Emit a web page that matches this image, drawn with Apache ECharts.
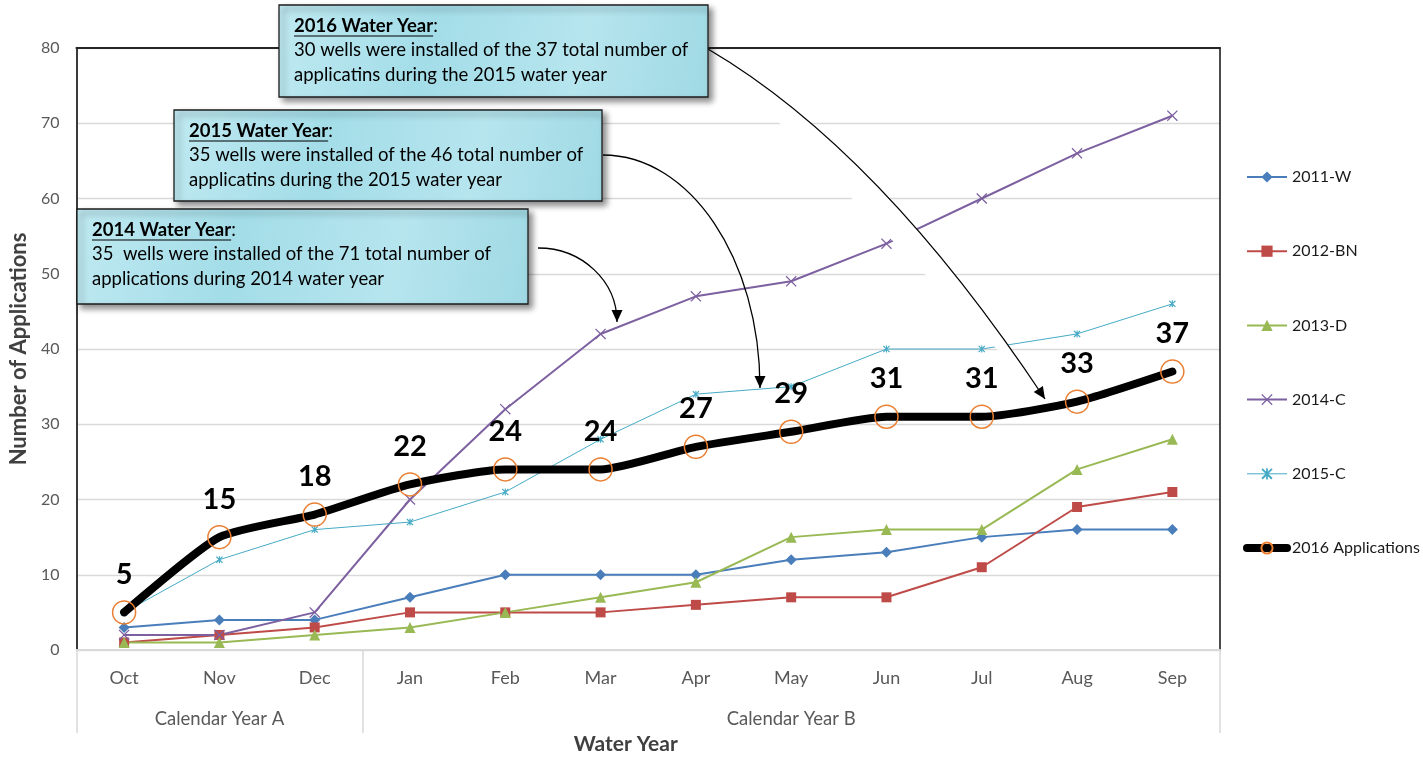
<!DOCTYPE html>
<html>
<head>
<meta charset="utf-8">
<title>Number of Applications by Water Year</title>
<script src="https://cdn.jsdelivr.net/npm/echarts@6/dist/echarts.min.js"></script>
<style>
  html, body { margin: 0; padding: 0; background: #fff; }
  #chart { width: 1423px; height: 761px; }
</style>
</head>
<body>
<div id="chart"></div>
<script>
  const months = ["Oct", "Nov", "Dec", "Jan", "Feb", "Mar", "Apr", "May", "Jun", "Jul", "Aug", "Sep"];
  const calendarYears = ["Calendar Year A", "Calendar Year B"];
  const calendarYearStart = [0, 3];

  const wy2011 = [3, 4, 4, 7, 10, 10, 10, 12, 13, 15, 16, 16];
  const wy2012 = [1, 2, 3, 5, 5, 5, 6, 7, 7, 11, 19, 21];
  const wy2013 = [1, 1, 2, 3, 5, 7, 9, 15, 16, 16, 24, 28];
  const wy2014 = [2, 2, 5, 20, 32, 42, 47, 49, 54, 60, 66, 71];
  const wy2015 = [5, 12, 16, 17, 21, 28, 34, 35, 40, 40, 42, 46];
  const apps2016 = [5, 15, 18, 22, 24, 24, 27, 29, 31, 31, 33, 37];

  const callouts = [
    { title: "2016 Water Year", lines: ["30 wells were installed of the 37 total number of", "applicatins during the 2015 water year"] },
    { title: "2015 Water Year", lines: ["35 wells were installed of the 46 total number of", "applicatins during the 2015 water year"] },
    { title: "2014 Water Year", lines: ["35  wells were installed of the 71 total number of", "applications during 2014 water year"] }
  ];

  const FONT = "Lato, 'Open Sans', sans-serif";
  const xSymbol = "path://M0,0.8L0.8,0L5,4.2L9.2,0L10,0.8L5.8,5L10,9.2L9.2,10L5,5.8L0.8,10L0,9.2L4.2,5Z";
  const starSymbol = "path://M0,1.2L1.2,0L5,3.8L8.8,0L10,1.2L6.2,5L10,8.8L8.8,10L5,6.2L1.2,10L0,8.8L3.8,5Z M4.2,0H5.8V10H4.2Z";

  const chart = echarts.init(document.getElementById("chart"), null, { renderer: "canvas" });

  const measureCtx = document.createElement("canvas").getContext("2d");
  function textWidth(text, font) {
    measureCtx.font = font;
    return measureCtx.measureText(text).width;
  }

  // label of the second-level axis sits in the middle month of each calendar year
  function calendarLabel(index) {
    for (let i = 0; i < calendarYearStart.length; i++) {
      const start = calendarYearStart[i];
      const end = i + 1 < calendarYearStart.length ? calendarYearStart[i + 1] - 1 : months.length - 1;
      if (index === Math.floor((start + end) / 2)) return calendarYears[i];
    }
    return "";
  }

  function lineSeries(name, data, color, symbol, symbolSize, width) {
    return {
      name,
      type: "line",
      data,
      symbol,
      symbolSize,
      color,
      lineStyle: { color, width },
      itemStyle: { color },
      emphasis: { disabled: true },
      z: 3
    };
  }

  const series = [
    lineSeries("2011-W", wy2011, "#4A7EBB", "diamond", 11, 2),
    lineSeries("2012-BN", wy2012, "#BE4B48", "rect", 10, 2),
    lineSeries("2013-D", wy2013, "#98B954", "triangle", 11, 2),
    lineSeries("2014-C", wy2014, "#7D60A0", xSymbol, 11, 2),
    lineSeries("2015-C", wy2015, "#46AAC5", starSymbol, 7, 1),
    {
      name: "2016 Applications",
      type: "line",
      data: apps2016,
      symbol: "circle",
      symbolSize: 23,
      smooth: 0.2,
      color: "#EA7F32",
      lineStyle: { color: "#000", width: 8, cap: "round", join: "round" },
      itemStyle: { color: "rgba(255,255,255,0)", borderColor: "#EA7F32", borderWidth: 1.5 },
      emphasis: { disabled: true },
      label: {
        show: true,
        position: "top",
        distance: 11,
        fontFamily: FONT,
        fontSize: 29,
        fontWeight: "bold",
        color: "#000"
      },
      z: 4
    }
  ];

  // ----- callout boxes and curved arrows (annotation, pixel space) -----
  const boxes = [
    { x: 279, y: 5, w: 429, h: 92 },
    { x: 174, y: 110, w: 428, h: 91 },
    { x: 77, y: 209, w: 451, h: 95 }
  ];

  function quadPoint(p0, c, p2, t) {
    const u = 1 - t;
    return [u * u * p0[0] + 2 * u * t * c[0] + t * t * p2[0], u * u * p0[1] + 2 * u * t * c[1] + t * t * p2[1]];
  }

  function arrowHead(tip, from, z) {
    const dx = tip[0] - from[0];
    const dy = tip[1] - from[1];
    const len = Math.hypot(dx, dy);
    const ux = dx / len, uy = dy / len;
    const bx = tip[0] - ux * 12, by = tip[1] - uy * 12;
    return {
      type: "polygon",
      z,
      silent: true,
      shape: { points: [tip, [bx - uy * 5.5, by + ux * 5.5], [bx + uy * 5.5, by - ux * 5.5]] },
      style: { fill: "#000" }
    };
  }

  const graphics = [];

  // 2016 connector: white filled between chord and arc, as in the source
  const a16 = { p0: [708, 49], c: [880, 150], p2: [1045, 399] };
  const fillPts = [];
  for (let i = 0; i <= 40; i++) fillPts.push(quadPoint(a16.p0, a16.c, a16.p2, i / 40));
  graphics.push({ type: "polygon", z: 10, silent: true, shape: { points: fillPts }, style: { fill: "#fff" } });
  graphics.push({
    type: "bezierCurve", z: 11, silent: true,
    shape: { x1: a16.p0[0], y1: a16.p0[1], cpx1: a16.c[0], cpy1: a16.c[1], x2: a16.p2[0], y2: a16.p2[1] },
    style: { stroke: "#000", lineWidth: 1.3, fill: null }
  });
  graphics.push(arrowHead(a16.p2, quadPoint(a16.p0, a16.c, a16.p2, 0.96), 11));

  // 2015 and 2014 connectors: quarter ellipse arcs
  [
    { p0: [603, 155], c1: [690, 155], c2: [760, 259], p3: [760, 388] },
    { p0: [538, 248], c1: [582, 248], c2: [617, 281], p3: [617, 322] }
  ].forEach((a) => {
    graphics.push({
      type: "bezierCurve", z: 11, silent: true,
      shape: { x1: a.p0[0], y1: a.p0[1], cpx1: a.c1[0], cpy1: a.c1[1], cpx2: a.c2[0], cpy2: a.c2[1], x2: a.p3[0], y2: a.p3[1] },
      style: { stroke: "#000", lineWidth: 1.3, fill: null }
    });
    graphics.push(arrowHead(a.p3, a.c2, 11));
  });

  const boxFill = {
    type: "linear", x: 0, y: 0, x2: 1, y2: 1,
    colorStops: [
      { offset: 0, color: "#bfe9f1" },
      { offset: 0.35, color: "#a3dde8" },
      { offset: 0.7, color: "#b6e5ee" },
      { offset: 1, color: "#9fd9e4" }
    ]
  };

  const titleFont = "bold 18.5px " + FONT;
  const bodyFont = "18.5px " + FONT;

  callouts.forEach((item, i) => {
    const b = boxes[i];
    const tx = b.x + 15;
    const ty = b.y + 21;
    const tw = textWidth(item.title, titleFont);
    graphics.push({
      type: "rect", z: 20, silent: true,
      shape: { x: b.x, y: b.y, width: b.w, height: b.h },
      style: {
        fill: boxFill, stroke: "#1c1c1c", lineWidth: 1.3,
        shadowBlur: 6, shadowOffsetX: 4, shadowOffsetY: 4, shadowColor: "rgba(0,0,0,0.45)"
      }
    });
    graphics.push({
      type: "text", z: 21, silent: true, x: tx, y: ty,
      style: { text: item.title, font: titleFont, fill: "#000", verticalAlign: "middle", textVerticalAlign: "middle" }
    });
    graphics.push({
      type: "text", z: 21, silent: true, x: tx + tw, y: ty,
      style: { text: ":", font: bodyFont, fill: "#000", verticalAlign: "middle", textVerticalAlign: "middle" }
    });
    graphics.push({
      type: "line", z: 21, silent: true,
      shape: { x1: tx, y1: ty + 10, x2: tx + tw, y2: ty + 10 },
      style: { stroke: "#000", lineWidth: 1.2 }
    });
    item.lines.forEach((line, k) => {
      graphics.push({
        type: "text", z: 21, silent: true, x: tx, y: ty + 24.5 * (k + 1),
        style: { text: line, font: bodyFont, fill: "#000", verticalAlign: "middle", textVerticalAlign: "middle" }
      });
    });
  });

  chart.setOption({
    animation: false,
    textStyle: { fontFamily: FONT },
    grid: { left: 76, right: 203, top: 48, bottom: 111 },
    legend: {
      orient: "vertical",
      left: 1238,
      top: 164,
      itemWidth: 40,
      itemHeight: 14,
      itemGap: 58.2,
      selectedMode: false,
      textStyle: { fontFamily: FONT, fontSize: 16, color: "#1a1a1a" },
      data: series.map((s) => ({ name: s.name, lineStyle: { width: s.lineStyle.width } }))
    },
    xAxis: [
      {
        type: "category",
        data: months,
        position: "bottom",
        axisLine: { lineStyle: { color: "#D9D9D9", width: 2 } },
        axisTick: { show: false },
        axisLabel: { color: "#595959", fontSize: 18, margin: 19, fontFamily: FONT },
        splitLine: { show: false }
      },
      {
        type: "category",
        data: months,
        position: "bottom",
        axisLine: { show: false },
        axisTick: {
          show: true,
          interval: (index) => calendarYearStart.includes(index),
          length: 83,
          lineStyle: { color: "#D9D9D9", width: 1.5 }
        },
        axisLabel: {
          interval: 0,
          margin: 60,
          color: "#595959",
          fontSize: 18.5,
          fontFamily: FONT,
          formatter: (value, index) => calendarLabel(index)
        },
        splitLine: { show: false },
        name: "Water Year",
        nameLocation: "middle",
        nameGap: 83,
        nameTextStyle: { color: "#404040", fontSize: 21, fontWeight: "bold", fontFamily: FONT, padding: [0, 45, 0, 0] }
      },
      {
        type: "category",
        data: months,
        position: "top",
        axisLine: { lineStyle: { color: "#262626", width: 2 } },
        axisTick: { show: false },
        axisLabel: { show: false },
        splitLine: { show: false }
      }
    ],
    yAxis: [
      {
        type: "value",
        min: 0,
        max: 80,
        interval: 10,
        axisLine: { show: true, lineStyle: { color: "#3a3a3a", width: 2 } },
        axisTick: { show: false },
        axisLabel: { color: "#595959", fontSize: 16, margin: 17, fontFamily: FONT },
        splitLine: { lineStyle: { color: "#D9D9D9", width: 1.3 } },
        name: "Number of Applications",
        nameLocation: "middle",
        nameGap: 43,
        nameTextStyle: { color: "#404040", fontSize: 22, fontWeight: "bold", fontFamily: FONT }
      },
      {
        type: "value",
        position: "right",
        min: 0,
        max: 80,
        interval: 10,
        axisLine: { show: true, lineStyle: { color: "#111", width: 1.5 } },
        axisTick: { show: false },
        axisLabel: { show: false },
        splitLine: { show: false }
      }
    ],
    series,
    graphic: { elements: graphics }
  });
</script>
</body>
</html>
